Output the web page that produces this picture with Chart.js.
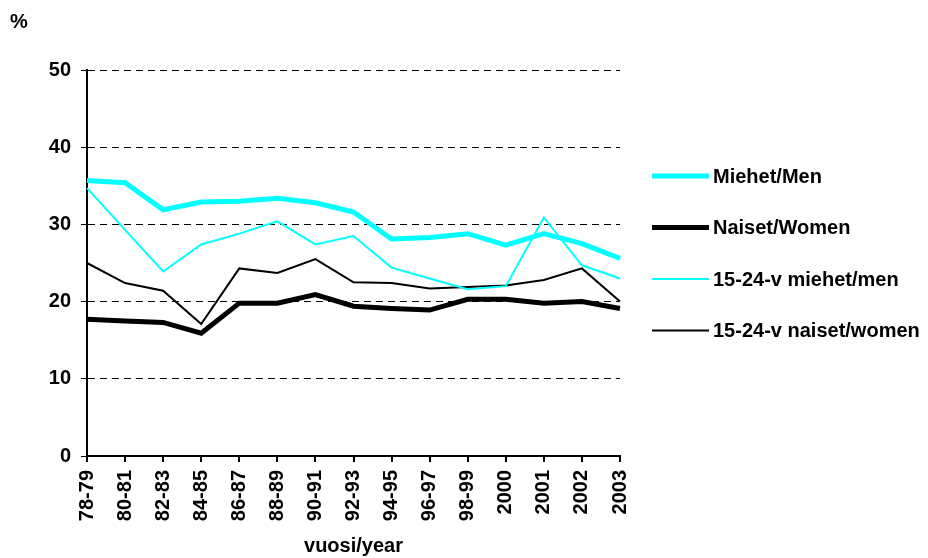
<!DOCTYPE html>
<html>
<head>
<meta charset="utf-8">
<script src="https://cdn.jsdelivr.net/npm/chart.js@4/dist/chart.umd.min.js"></script>
<style>
  html, body { margin: 0; padding: 0; background: #fff; }
</style>
</head>
<body>
<canvas id="myChart" width="928" height="558"></canvas>
<script>
// categories
const years = ['78-79', '80-81', '82-83', '84-85', '86-87', '88-89', '90-91', '92-93',
  '94-95', '96-97', '98-99', '2000', '2001', '2002', '2003'];

// series values (%)
const men = [35.7, 35.4, 31.9, 32.9, 33.0, 33.4, 32.8, 31.6, 28.1, 28.3, 28.8, 27.3, 28.8, 27.5, 25.6];
const women = [17.7, 17.5, 17.3, 15.9, 19.8, 19.8, 20.9, 19.4, 19.1, 18.9, 20.3, 20.3, 19.8, 20.0, 19.1];
const youngMen = [34.7, 29.3, 23.9, 27.4, 28.8, 30.4, 27.4, 28.5, 24.4, 23.0, 21.6, 22.0, 30.9, 24.7, 23.0];
const youngWomen = [25.0, 22.4, 21.4, 17.1, 24.3, 23.7, 25.5, 22.5, 22.4, 21.7, 21.9, 22.1, 22.8, 24.3, 20.0];

const yTicks = [0, 10, 20, 30, 40, 50];

const FONT = "'Liberation Sans', Arial, sans-serif";
Chart.defaults.font.family = FONT;
Chart.defaults.font.weight = 'bold';
Chart.defaults.font.size = 20;
Chart.defaults.color = '#000';

// legend on the right + "%" label
const sideLegend = {
  id: 'sideLegend',
  afterDraw(chart) {
    const ctx = chart.ctx;
    ctx.save();
    ctx.font = 'bold 20px ' + FONT;
    ctx.fillStyle = '#000';
    ctx.textBaseline = 'middle';
    ctx.fillText('%', 10, 22);
    chart.data.datasets.forEach((ds, i) => {
      const y = 176 + i * 51.5;
      ctx.strokeStyle = ds.borderColor;
      ctx.lineWidth = ds.borderWidth;
      ctx.beginPath();
      ctx.moveTo(652, y);
      ctx.lineTo(709, y);
      ctx.stroke();
      ctx.fillText(ds.label, 713, y + 1);
    });
    ctx.restore();
  }
};

new Chart(document.getElementById('myChart'), {
  type: 'line',
  data: {
    labels: years,
    datasets: [
      { label: 'Miehet/Men', data: men, borderColor: '#00FFFF', borderWidth: 5, pointRadius: 0, tension: 0 },
      { label: 'Naiset/Women', data: women, borderColor: '#000000', borderWidth: 5, pointRadius: 0, tension: 0 },
      { label: '15-24-v miehet/men', data: youngMen, borderColor: '#00FFFF', borderWidth: 2, pointRadius: 0, tension: 0 },
      { label: '15-24-v naiset/women', data: youngWomen, borderColor: '#000000', borderWidth: 2, pointRadius: 0, tension: 0 }
    ]
  },
  options: {
    responsive: false,
    animation: false,
    layout: { padding: { left: 0, right: 308, top: 70, bottom: 0 } },
    plugins: { legend: { display: false }, tooltip: { enabled: false } },
    scales: {
      x: {
        offset: false,
        grid: { drawOnChartArea: false, color: '#000', tickLength: 6, lineWidth: 2 },
        border: { color: '#000', width: 2 },
        ticks: { minRotation: 90, maxRotation: 90, padding: 8, autoSkip: false },
        title: { display: true, text: 'vuosi/year', padding: { top: 4, bottom: 0 } },
        afterFit(scale) { scale.height = 102; }
      },
      y: {
        min: 0, max: 50,
        afterBuildTicks(scale) { scale.ticks = yTicks.map(v => ({ value: v })); },
        grid: { color: '#000', lineWidth: 1, tickLength: 6, tickBorderDash: [0, 0], tickColor: '#000' },
        border: { color: '#000', width: 2, dash: [7, 5] },
        ticks: { padding: 10 },
        afterFit(scale) { scale.width = 87; }
      }
    }
  },
  plugins: [sideLegend]
});
</script>
</body>
</html>
